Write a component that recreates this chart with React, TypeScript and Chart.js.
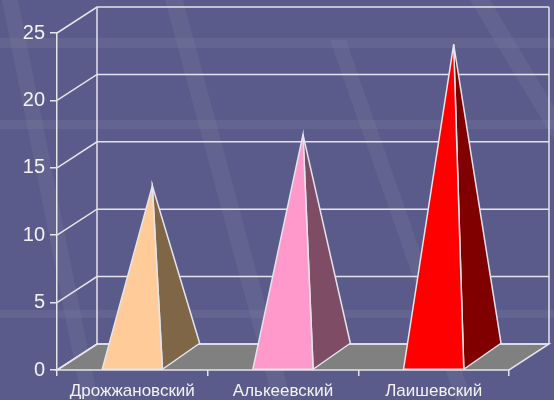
import React, { useEffect, useRef } from "react";
import { Chart, registerables } from "chart.js";
Chart.register(...registerables);

const categories = ["Дрожжановский", "Алькеевский", "Лаишевский"];
const values = [12.7, 16.5, 23.2];
const frontColors = ["#FFCC99", "#FF99CC", "#FF0000"];
const sideColors = ["#7F6647", "#7F4C66", "#800000"];
const yTicks = [0, 5, 10, 15, 20, 25];

const DX = 40;
const DY = -26;
const LINE = "#E4E4EC";

const scene = {
  id: "scene3d",
  beforeDraw(chart: any) {
    const { ctx, width, height } = chart;
    ctx.save();
    ctx.fillStyle = "#5A5B8A";
    ctx.fillRect(0, 0, width, height);
    ctx.fillStyle = "rgba(255,255,255,0.06)";
    [[38, 10], [120, 9], [310, 8]].forEach(([yy, h]) => ctx.fillRect(0, yy, width, h));
    ctx.fillStyle = "rgba(255,255,255,0.05)";
    const stripes = [
      [2, 0, 16, 0.2],
      [165, 0, 18, 0.27],
      [330, 40, 16, 0.35],
      [470, 0, 20, 0.6],
    ];
    stripes.forEach(([x0, y0, w, k]) => {
      ctx.beginPath();
      ctx.moveTo(x0, y0);
      ctx.lineTo(x0 + w, y0);
      ctx.lineTo(x0 + w + k * (height - y0), height);
      ctx.lineTo(x0 + k * (height - y0), height);
      ctx.closePath();
      ctx.fill();
    });
    ctx.restore();
  },
  beforeDatasetsDraw(chart: any) {
    const { ctx, chartArea } = chart;
    const y = chart.scales.y;
    const L = chartArea.left;
    const R = chartArea.right;
    const B = y.getPixelForValue(0);
    const T = y.getPixelForValue(yTicks[yTicks.length - 1]);
    ctx.save();
    ctx.lineWidth = 1.5;
    ctx.strokeStyle = LINE;
    ctx.beginPath();
    ctx.moveTo(L, B);
    ctx.lineTo(R, B);
    ctx.lineTo(R + DX, B + DY);
    ctx.lineTo(L + DX, B + DY);
    ctx.closePath();
    ctx.fillStyle = "#808080";
    ctx.fill();
    ctx.stroke();
    yTicks.forEach((t) => {
      const yp = y.getPixelForValue(t);
      ctx.beginPath();
      ctx.moveTo(L, yp);
      ctx.lineTo(L + DX, yp + DY);
      ctx.lineTo(R + DX, yp + DY);
      ctx.stroke();
    });
    ctx.beginPath();
    ctx.moveTo(L + DX, T + DY);
    ctx.lineTo(L + DX, B + DY);
    ctx.moveTo(R + DX, T + DY);
    ctx.lineTo(R + DX, B + DY);
    ctx.stroke();
    ctx.restore();
  },
  afterDatasetsDraw(chart: any) {
    const { ctx } = chart;
    const meta = chart.getDatasetMeta(0);
    ctx.save();
    ctx.lineWidth = 1.5;
    ctx.strokeStyle = LINE;
    ctx.lineJoin = "miter";
    meta.data.forEach((bar: any, i: number) => {
      const p = bar.getProps(["x", "y", "base", "width"], true);
      const l = p.x - p.width / 2;
      const r = p.x + p.width / 2;
      const ax = p.x + DX / 2;
      const ay = p.y + DY / 2;
      ctx.beginPath();
      ctx.moveTo(r, p.base);
      ctx.lineTo(r + DX * 0.93, p.base + DY);
      ctx.lineTo(ax, ay);
      ctx.closePath();
      ctx.fillStyle = sideColors[i];
      ctx.fill();
      ctx.stroke();
      ctx.beginPath();
      ctx.moveTo(l, p.base);
      ctx.lineTo(r, p.base);
      ctx.lineTo(ax, ay);
      ctx.closePath();
      ctx.fillStyle = frontColors[i];
      ctx.fill();
      ctx.stroke();
    });
    ctx.restore();
  },
};

export default function App() {
  const ref = useRef<HTMLCanvasElement>(null);
  useEffect(() => {
    if (!ref.current) return;
    const chart = new Chart(ref.current, {
      type: "bar",
      data: {
        labels: categories,
        datasets: [
          {
            data: values,
            backgroundColor: "rgba(0,0,0,0)",
            borderWidth: 0,
            categoryPercentage: 1,
            barPercentage: 0.4,
          },
        ],
      },
      options: {
        responsive: false,
        animation: false,
        layout: { padding: { top: 33, right: 45, left: 0, bottom: 0 } },
        plugins: { legend: { display: false }, tooltip: { enabled: false } },
        scales: {
          y: {
            min: 0,
            max: 25,
            ticks: {
              stepSize: 5,
              color: "#F2F2F5",
              font: { family: "Liberation Sans", size: 20 },
              padding: 5,
            },
            grid: {
              drawOnChartArea: false,
              drawTicks: true,
              tickLength: 7,
              color: LINE,
              lineWidth: 1.5,
            },
            border: { display: true, color: LINE, width: 1.5 },
            afterFit: (s: any) => {
              s.width = 57;
            },
          },
          x: {
            ticks: {
              color: "#F2F2F5",
              font: { family: "Liberation Sans", size: 17 },
              padding: 5,
            },
            grid: {
              offset: true,
              drawOnChartArea: false,
              drawTicks: true,
              tickLength: 6,
              color: LINE,
              lineWidth: 1.5,
            },
            border: { display: false },
            afterFit: (s: any) => {
              s.height = 30;
            },
          },
        },
      },
      plugins: [scene],
    });
    return () => chart.destroy();
  }, []);
  return (
    <div style={{ position: "absolute", left: 0, top: 0, width: 554, height: 400 }}>
      <canvas ref={ref} width={554} height={400} style={{ display: "block" }} />
    </div>
  );
}
